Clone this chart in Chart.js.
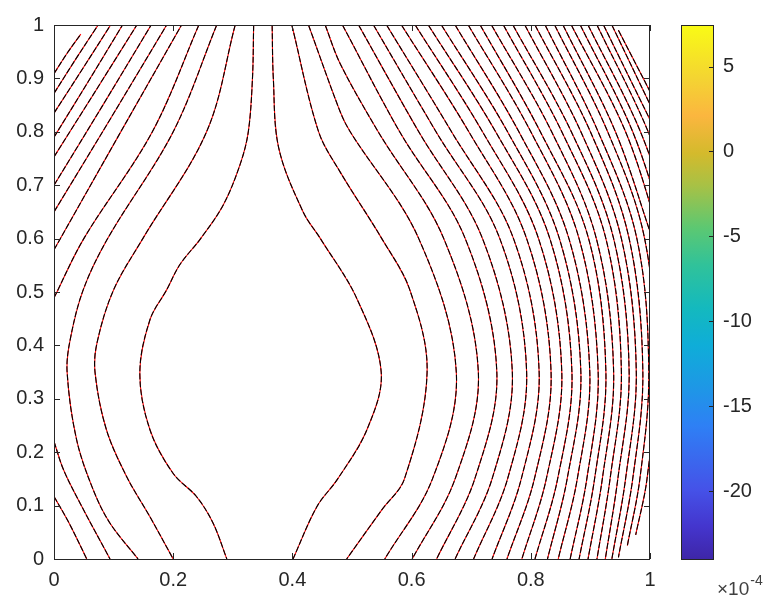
<!DOCTYPE html>
<html>
<head>
<meta charset="utf-8">
<script src="https://cdn.jsdelivr.net/npm/chart.js@4"></script>
<style>
  body { margin: 0; background: #fff; }
  #wrap { position: relative; width: 771px; height: 605px; }
  canvas { position: absolute; top: 0; }
</style>
</head>
<body>
<div id="wrap">
  <canvas id="main" width="771" height="605" style="left:0"></canvas>
  <canvas id="cbar" width="111" height="605" style="left:660px"></canvas>
</div>
<script>
// axis ticks
const xTicks = [0, 0.2, 0.4, 0.6, 0.8, 1];
const yTicks = [0, 0.1, 0.2, 0.3, 0.4, 0.5, 0.6, 0.7, 0.8, 0.9, 1];
const cbTicks = [-20, -15, -10, -5, 0, 5];
const cbRange = [-24, 7.45];   // x 1e-4

// contour lines, [x, y] points
const topLeftLines = [
  [[0, 0.909], [0.022, 0.947], [0.045, 0.983]],
  [[0, 0.872], [0.037, 0.937], [0.074, 1]],
  [[0, 0.835], [0.048, 0.918], [0.095, 1]],
  [[0, 0.79], [0.058, 0.895], [0.115, 1]],
  [[0, 0.753], [0.07, 0.877], [0.139, 1]],
  [[0, 0.70], [0.082, 0.85], [0.163, 1]],
  [[0, 0.65], [0.095, 0.825], [0.189, 1]],
  [[0, 0.579], [0.107, 0.79], [0.214, 1]],
  [[0, 0.489], [0.05, 0.6], [0.165, 0.8], [0.243, 1]]
];

const lowerLeftLines = [
  [[0, 0.117], [0.025, 0.068], [0.055, 0]],
  [[0, 0.22], [0.016, 0.167], [0.044, 0.104], [0.094, 0]],
  [[0.273, 1], [0.2, 0.8], [0.09, 0.6], [0.049, 0.504], [0.027, 0.41], [0.022, 0.35],
   [0.038, 0.223], [0.066, 0.129], [0.094, 0.067], [0.141, 0]],
  [[0.304, 1], [0.256, 0.8], [0.149, 0.6], [0.1, 0.504], [0.072, 0.404], [0.069, 0.348],
   [0.088, 0.242], [0.122, 0.154], [0.161, 0.079], [0.2, 0]]
];

const bubbleLeft = [[0.335, 1], [0.333, 0.9], [0.326, 0.8], [0.312, 0.738], [0.284, 0.663],
  [0.246, 0.6], [0.211, 0.551], [0.189, 0.504], [0.161, 0.448], [0.144, 0.348], [0.161, 0.242],
  [0.2, 0.16], [0.239, 0.117], [0.267, 0.067], [0.29, 0]];

const bubbleRight = [[0.366, 1], [0.368, 0.9], [0.377, 0.77], [0.418, 0.65], [0.447, 0.6], [0.508, 0.488],
  [0.549, 0.35], [0.525, 0.242], [0.476, 0.15], [0.441, 0.098], [0.401, 0]];

const rightLines = [
  [[0.399, 1], [0.444, 0.8], [0.48, 0.725], [0.55, 0.6], [0.597, 0.504], [0.626, 0.35], [0.588, 0.15], [0.55, 0.092], [0.491, 0]],
  [[0.427, 1], [0.48, 0.838], [0.497, 0.8], [0.612, 0.6], [0.675, 0.35], [0.635, 0.15], [0.555, 0]],
  [[0.455, 1], [0.48, 0.928], [0.544, 0.8], [0.654, 0.6], [0.712, 0.35], [0.673, 0.15], [0.601, 0]],
  [[0.484, 1], [0.58, 0.8], [0.69, 0.6], [0.743, 0.35], [0.706, 0.15], [0.642, 0]],
  [[0.511, 1], [0.612, 0.8], [0.719, 0.6], [0.769, 0.35], [0.735, 0.15], [0.673, 0]],
  [[0.536, 1], [0.641, 0.8], [0.748, 0.6], [0.793, 0.35], [0.761, 0.15], [0.704, 0]],
  [[0.558, 1], [0.667, 0.8], [0.771, 0.6], [0.814, 0.35], [0.784, 0.15], [0.735, 0]],
  [[0.583, 1], [0.696, 0.8], [0.793, 0.6], [0.834, 0.35], [0.806, 0.15], [0.76, 0]],
  [[0.606, 1], [0.719, 0.8], [0.813, 0.6], [0.852, 0.35], [0.826, 0.15], [0.785, 0]],
  [[0.628, 1], [0.741, 0.8], [0.832, 0.6], [0.869, 0.35], [0.845, 0.15], [0.807, 0]],
  [[0.65, 1], [0.761, 0.8], [0.848, 0.6], [0.884, 0.35], [0.861, 0.15], [0.828, 0]],
  [[0.673, 1], [0.78, 0.8], [0.864, 0.6], [0.899, 0.35], [0.878, 0.15], [0.846, 0]],
  [[0.695, 1], [0.8, 0.8], [0.881, 0.6], [0.913, 0.35], [0.894, 0.15], [0.866, 0]],
  [[0.715, 1], [0.816, 0.8], [0.897, 0.6], [0.926, 0.35], [0.907, 0.15], [0.881, 0]],
  [[0.734, 1], [0.835, 0.8], [0.91, 0.6], [0.939, 0.35], [0.92, 0.15], [0.896, 0]],
  [[0.754, 1], [0.852, 0.8], [0.926, 0.6], [0.952, 0.35], [0.933, 0.15], [0.911, 0]],
  [[0.77, 1], [0.868, 0.8], [0.939, 0.6], [0.965, 0.35], [0.946, 0.15], [0.925, 0]],
  [[0.79, 1], [0.884, 0.8], [0.952, 0.6], [0.977, 0.35], [0.959, 0.15], [0.936, 0]],
  [[0.807, 1], [0.9, 0.8], [0.965, 0.6], [0.988, 0.35], [0.971, 0.15], [0.947, 0.003]],
  [[0.824, 1], [0.913, 0.8], [0.978, 0.6], [0.998, 0.35], [0.983, 0.15], [0.962, 0.025]],
  [[0.84, 1], [0.929, 0.8], [0.991, 0.6], [1.01, 0.35], [0.995, 0.15], [0.976, 0.045]],
  [[0.854, 1], [0.942, 0.8], [1.004, 0.6]],
  [[0.868, 1], [0.959, 0.8], [1.018, 0.6]],
  [[0.883, 1], [0.971, 0.8], [1.03, 0.6]],
  [[0.896, 1], [0.984, 0.8], [1.045, 0.6]],
  [[0.911, 1], [0.997, 0.8], [1.06, 0.6]],
  [[0.922, 1], [1.01, 0.8]],
  [[0.936, 1], [1.022, 0.8]],
  [[0.947, 0.99], [1.035, 0.8]]
];

// parula-like colormap stops (bottom -> top)
const cmapStops = [
  [0, '#3e26a8'], [0.06, '#4435cd'], [0.13, '#4552e8'], [0.25, '#2e80f5'], [0.32, '#1e97e6'],
  [0.4, '#0fadd8'], [0.47, '#14b9be'], [0.55, '#30c29a'], [0.62, '#5cc872'], [0.7, '#a8c145'],
  [0.76, '#d4ba2c'], [0.83, '#fbb63f'], [0.9, '#f4d432'], [1, '#f9fb15']
];

const axisColor = '#262626';
const tickFont = { family: '"Liberation Sans", Arial, sans-serif', size: 20 };

const allLines = [...topLeftLines, ...lowerLeftLines, bubbleLeft, bubbleRight, ...rightLines];
const datasets = [];
allLines.forEach(line => {
  const pts = line.map(p => ({ x: p[0], y: p[1] }));
  datasets.push({ data: pts, borderColor: '#ff0000', borderWidth: 1.1, order: 2 });
  datasets.push({ data: pts, borderColor: '#000000', borderWidth: 1.1, borderDash: [6, 2], order: 1 });
});

// box + inward ticks like matlab
const boxPlugin = {
  id: 'box',
  afterDraw(chart) {
    const { ctx, chartArea: a, scales } = chart;
    ctx.save();
    ctx.strokeStyle = axisColor;
    ctx.lineWidth = 1;
    ctx.strokeRect(a.left + 0.5, a.top + 0.5, a.right - a.left - 1, a.bottom - a.top);
    ctx.beginPath();
    xTicks.forEach(v => {
      const px = Math.round(scales.x.getPixelForValue(v)) + 0.5;
      ctx.moveTo(px, a.bottom); ctx.lineTo(px, a.bottom - 6);
      ctx.moveTo(px, a.top); ctx.lineTo(px, a.top + 6);
    });
    yTicks.forEach(v => {
      const py = Math.round(scales.y.getPixelForValue(v)) + 0.5;
      ctx.moveTo(a.left, py); ctx.lineTo(a.left + 6, py);
      ctx.moveTo(a.right, py); ctx.lineTo(a.right - 6, py);
    });
    ctx.stroke();
    ctx.restore();
  }
};

new Chart(document.getElementById('main'), {
  type: 'scatter',
  data: { datasets: datasets },
  options: {
    responsive: false,
    animation: false,
    showLine: true,
    layout: { padding: { top: 25, right: 121, left: 0, bottom: 0 } },
    elements: { point: { radius: 0 }, line: { tension: 0.35, fill: false } },
    plugins: { legend: { display: false }, tooltip: { enabled: false } },
    scales: {
      x: {
        type: 'linear', min: 0, max: 1,
        afterBuildTicks: s => { s.ticks = xTicks.map(v => ({ value: v })); },
        afterFit: s => { s.height = 46; },
        grid: { display: false, drawTicks: false },
        border: { display: false },
        ticks: { color: axisColor, font: tickFont, padding: 9, maxRotation: 0, callback: v => String(v) }
      },
      y: {
        type: 'linear', min: 0, max: 1,
        afterBuildTicks: s => { s.ticks = yTicks.map(v => ({ value: v })); },
        afterFit: s => { s.width = 54; },
        grid: { display: false, drawTicks: false },
        border: { display: false },
        ticks: { color: axisColor, font: tickFont, padding: 10, callback: v => String(v) }
      }
    }
  },
  plugins: [boxPlugin]
});

// colorbar
const cbarPlugin = {
  id: 'cbarbox',
  afterDraw(chart) {
    const { ctx, chartArea: a, scales } = chart;
    ctx.save();
    ctx.strokeStyle = axisColor;
    ctx.lineWidth = 1;
    ctx.strokeRect(a.left + 0.5, a.top + 0.5, a.right - a.left - 1, a.bottom - a.top);
    ctx.beginPath();
    cbTicks.forEach(v => {
      const py = Math.round(scales.y.getPixelForValue(v)) + 0.5;
      ctx.moveTo(a.right, py); ctx.lineTo(a.right - 5, py);
    });
    ctx.stroke();
    // exponent label
    ctx.fillStyle = '#404040';
    ctx.textBaseline = 'alphabetic';
    ctx.font = '19px "Liberation Sans", Arial, sans-serif';
    const base = '\u00d710';
    const x0 = a.left + 36;
    ctx.fillText(base, x0, a.bottom + 36);
    const w = ctx.measureText(base).width;
    ctx.font = '14px "Liberation Sans", Arial, sans-serif';
    ctx.fillText('-4', x0 + w + 1, a.bottom + 26);
    ctx.restore();
  }
};

new Chart(document.getElementById('cbar'), {
  type: 'bar',
  data: {
    labels: [''],
    datasets: [{
      data: [cbRange],
      borderWidth: 0,
      barPercentage: 1,
      categoryPercentage: 1,
      backgroundColor: c => {
        const a = c.chart.chartArea;
        if (!a) return '#888';
        const g = c.chart.ctx.createLinearGradient(0, a.bottom, 0, a.top);
        cmapStops.forEach(s => g.addColorStop(s[0], s[1]));
        return g;
      }
    }]
  },
  options: {
    responsive: false,
    animation: false,
    layout: { padding: { top: 25, left: 21, right: 0, bottom: 46 } },
    plugins: { legend: { display: false }, tooltip: { enabled: false } },
    scales: {
      x: { display: false },
      y: {
        position: 'right', min: cbRange[0], max: cbRange[1],
        afterBuildTicks: s => { s.ticks = cbTicks.map(v => ({ value: v })); },
        afterFit: s => { s.width = 57; },
        grid: { display: false, drawTicks: false },
        border: { display: false },
        ticks: { color: axisColor, font: tickFont, padding: 9, callback: v => String(v) }
      }
    }
  },
  plugins: [cbarPlugin]
});
</script>
</body>
</html>
